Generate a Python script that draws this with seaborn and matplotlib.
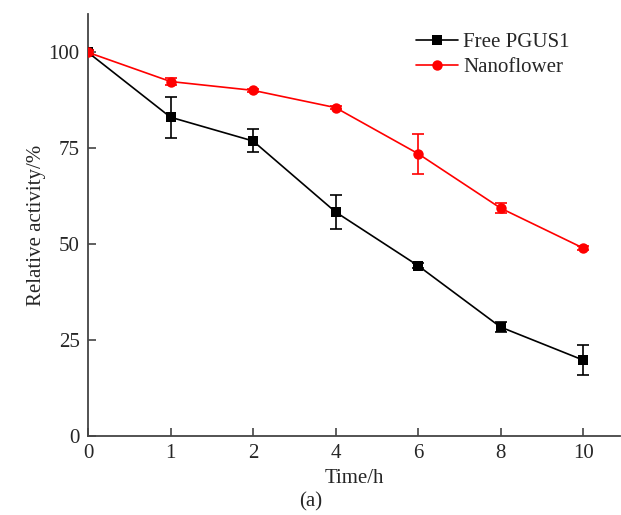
import numpy as np
import pandas as pd
import matplotlib
matplotlib.use("Agg")
import matplotlib.pyplot as plt
import seaborn as sns

# Data
time_labels = ["0", "1", "2", "4", "6", "8", "10"]
free_pgus1 = [100, 83.1, 76.9, 58.4, 44.4, 28.4, 19.8]
free_pgus1_err = [0.5, 5.3, 3.0, 4.4, 0.6, 1.4, 3.8]
nanoflower = [100, 92.4, 90.1, 85.6, 73.6, 59.4, 49.0]
nanoflower_err = [0.6, 1.0, 0.4, 0.4, 5.2, 1.3, 0.4]

sns.set_style("ticks")
plt.rcParams['font.family'] = ['Liberation Serif', 'DejaVu Serif']
plt.rcParams['font.size'] = 15

pos = np.arange(len(time_labels))
df = pd.DataFrame({
    'pos': np.concatenate([pos, pos]),
    'activity': free_pgus1 + nanoflower,
    'err': free_pgus1_err + nanoflower_err,
    'sample': ['Free PGUS1'] * len(pos) + ['Nanoflower'] * len(pos),
})

fig = plt.figure(figsize=(6.21, 5.15), dpi=100)
ax = fig.add_axes([0.1417, 0.1534, 0.857, 0.8194])

colors = {'Free PGUS1': 'black', 'Nanoflower': '#ff0000'}
markers = {'Free PGUS1': 's', 'Nanoflower': 'o'}

# error bars first, lines + markers on top
for name, grp in df.groupby('sample'):
    ax.errorbar(grp['pos'], grp['activity'], yerr=grp['err'], fmt='none',
                ecolor=colors[name], elinewidth=1.2, capsize=4, capthick=1.2, zorder=2)

sns.lineplot(data=df, x='pos', y='activity', hue='sample', style='sample',
             palette=colors, markers=markers, dashes=False, markersize=7.5,
             markeredgewidth=0, linewidth=1.2, ax=ax, zorder=3)

ax.set_xlim(0, 6.45)
ax.set_ylim(0, 110)
ax.set_xticks(pos)
ax.set_xticklabels(time_labels)
ax.set_yticks([0, 25, 50, 75, 100])
ax.tick_params(direction='in', length=6, width=1.2, labelsize=15, pad=6,
               color='#444444')
sns.despine(ax=ax)
for sp in ['left', 'bottom']:
    ax.spines[sp].set_linewidth(1.3)
    ax.spines[sp].set_color('#444444')

ax.set_xlabel('Time/h', fontsize=15, labelpad=4)
ax.set_ylabel('Relative activity/%', fontsize=15, labelpad=2)
fig.text(0.5, 0.006, '(a)', ha='center', va='bottom', fontsize=15)

leg = ax.legend(loc='upper right', bbox_to_anchor=(0.94, 1.0), frameon=False,
                fontsize=15, handlelength=2.0, handletextpad=0.25, labelspacing=0.25)

fig.savefig('out.png', dpi=100)
